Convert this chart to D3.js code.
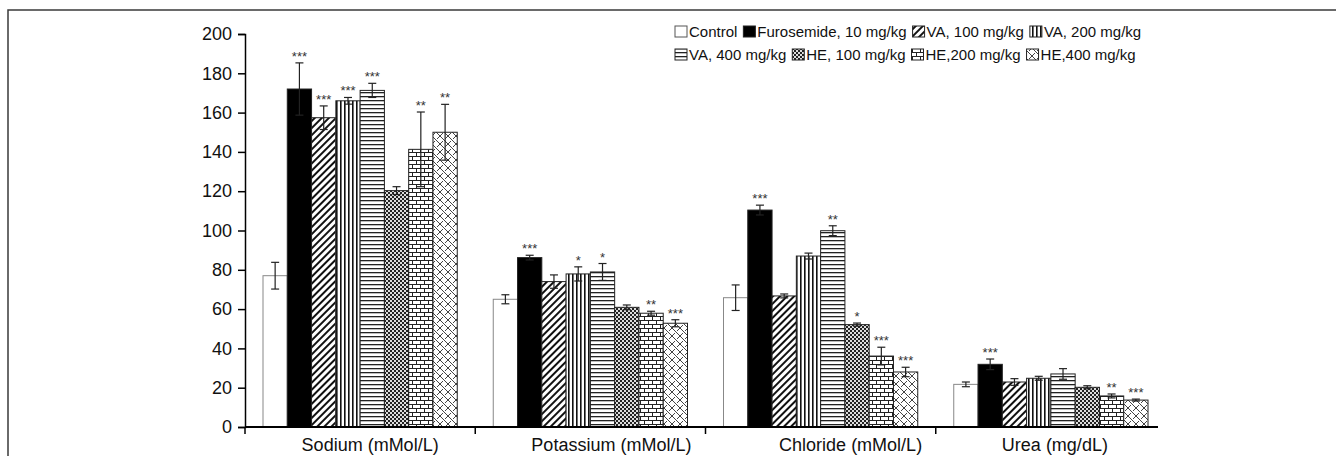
<!DOCTYPE html>
<html>
<head>
<meta charset="utf-8">
<script src="https://cdn.jsdelivr.net/npm/d3@7"></script>
<style>
  body { margin: 0; background: #fff; }
  svg { display: block; font-family: "Liberation Sans", Arial, sans-serif; }
</style>
</head>
<body>
<div id="chart"></div>
<script>
// categorias y grupos de tratamiento
const categories = ["Sodium (mMol/L)", "Potassium (mMol/L)", "Chloride (mMol/L)", "Urea (mg/dL)"];
const groups = ["Control", "Furosemide, 10 mg/kg", "VA, 100 mg/kg", "VA, 200 mg/kg",
                "VA, 400 mg/kg", "HE, 100 mg/kg", "HE,200 mg/kg", "HE,400 mg/kg"];

// valores medios, error y significancia por categoria
const sodium = [77, 172, 157.4, 166, 171.3, 120.3, 141.3, 150];
const sodiumErr = [6.8, 13.3, 6, 1.7, 3.6, 2, 19, 14.2];
const sodiumSig = ["", "***", "***", "***", "***", "", "**", "**"];

const potassium = [65, 86.2, 74, 77.9, 78.9, 60.9, 57.9, 52.8];
const potassiumErr = [2.3, 1.2, 3.4, 3.6, 4.3, 1.2, 1, 1.8];
const potassiumSig = ["", "***", "", "*", "*", "", "**", "***"];

const chloride = [65.8, 110.4, 66.7, 87, 99.9, 52.1, 36.1, 28];
const chlorideErr = [6.5, 2.5, 1, 1.5, 2.5, 0.8, 4.5, 2.4];
const chlorideSig = ["", "***", "", "", "**", "*", "***", "***"];

const urea = [21.7, 31.9, 22.9, 24.8, 27, 20.2, 15.8, 13.7];
const ureaErr = [1.2, 2.7, 1.7, 1, 2.7, 0.8, 1, 0.5];
const ureaSig = ["", "***", "", "", "", "", "**", "***"];

const yTicks = [0, 20, 40, 60, 80, 100, 120, 140, 160, 180, 200];

// leyenda en dos filas
const legendRows = [groups.slice(0, 4), groups.slice(4)];

const means = [sodium, potassium, chloride, urea];
const errs = [sodiumErr, potassiumErr, chlorideErr, ureaErr];
const sigs = [sodiumSig, potassiumSig, chlorideSig, ureaSig];

// corrimiento de las etiquetas del eje x (como en la figura original)
const labelShift = [10, 21, 30, 4];

const width = 1336, height = 456;

let svg = d3.select("#chart").append("svg")
    .attr("width", width)
    .attr("height", height);

// patrones de relleno
const defs = svg.append("defs");
const fills = ["#fff", "#000", "url(#pDiag)", "url(#pVert)", "url(#pHorz)",
               "url(#pCheck)", "url(#pBrick)", "url(#pWeave)"];

let p = defs.append("pattern").attr("id", "pDiag")
    .attr("patternUnits", "userSpaceOnUse").attr("width", 5).attr("height", 5)
    .attr("patternTransform", "rotate(45)");
p.append("rect").attr("width", 5).attr("height", 5).attr("fill", "#fff");
p.append("rect").attr("width", 2).attr("height", 5).attr("fill", "#111");

p = defs.append("pattern").attr("id", "pVert")
    .attr("patternUnits", "userSpaceOnUse").attr("width", 4).attr("height", 4);
p.append("rect").attr("width", 4).attr("height", 4).attr("fill", "#fff");
p.append("rect").attr("width", 1.6).attr("height", 4).attr("fill", "#111");

p = defs.append("pattern").attr("id", "pHorz")
    .attr("patternUnits", "userSpaceOnUse").attr("width", 4).attr("height", 4);
p.append("rect").attr("width", 4).attr("height", 4).attr("fill", "#fff");
p.append("rect").attr("width", 4).attr("height", 1.3).attr("fill", "#222");

p = defs.append("pattern").attr("id", "pCheck")
    .attr("patternUnits", "userSpaceOnUse").attr("width", 4).attr("height", 4);
p.append("rect").attr("width", 4).attr("height", 4).attr("fill", "#ddd");
p.append("rect").attr("width", 2).attr("height", 2).attr("fill", "#222");
p.append("rect").attr("x", 2).attr("y", 2).attr("width", 2).attr("height", 2).attr("fill", "#222");

p = defs.append("pattern").attr("id", "pBrick")
    .attr("patternUnits", "userSpaceOnUse").attr("width", 8).attr("height", 8);
p.append("rect").attr("width", 8).attr("height", 8).attr("fill", "#fff");
p.append("path").attr("d", "M0,0.5H8M0,4.5H8M0.5,0.5V4.5M4.5,4.5V8.5")
    .attr("stroke", "#222").attr("stroke-width", 1).attr("fill", "none");

p = defs.append("pattern").attr("id", "pWeave")
    .attr("patternUnits", "userSpaceOnUse").attr("width", 8).attr("height", 8);
p.append("rect").attr("width", 8).attr("height", 8).attr("fill", "#fff");
p.append("path").attr("d", "M0,0L8,8M0,8L3,5M5,3L8,0M-1,1L1,-1M7,9L9,7")
    .attr("stroke", "#444").attr("stroke-width", 1).attr("fill", "none");

// marco exterior
svg.append("rect")
    .attr("x", 8).attr("y", 10)
    .attr("width", width + 20).attr("height", height + 20)
    .attr("fill", "none").attr("stroke", "#3a3a3a").attr("stroke-width", 1.5);

// escalas
let x0 = d3.scaleBand().domain(categories).range([245, 1166]);
let x1 = d3.scaleBand().domain(groups).range([18, x0.bandwidth() - 18]);
let y = d3.scaleLinear().domain([0, 200]).range([427, 34]);

// eje y
let yAxis = svg.append("g")
    .attr("transform", "translate(245,0)")
    .call(d3.axisLeft(y).tickValues(yTicks).tickSize(7).tickPadding(6));
yAxis.select(".domain").attr("stroke", "#000").attr("stroke-width", 1.5);
yAxis.selectAll(".tick line").attr("stroke", "#000").attr("stroke-width", 1.5);
yAxis.selectAll("text")
    .attr("font-size", 18).attr("fill", "#111")
    .attr("font-family", "'Liberation Sans', Arial, sans-serif");

// datos planos para las barras
let bars = [];
categories.forEach(function(c, ci) {
    groups.forEach(function(g, gi) {
        bars.push({cat: c, group: g, gi: gi, v: means[ci][gi], e: errs[ci][gi], sig: sigs[ci][gi]});
    });
});

svg.append("g").selectAll("rect")
    .data(bars)
    .enter().append("rect")
    .attr("x", d => x0(d.cat) + x1(d.group))
    .attr("y", d => y(d.v))
    .attr("width", x1.bandwidth())
    .attr("height", d => y(0) - y(d.v))
    .attr("fill", d => fills[d.gi])
    .attr("stroke", d => d.gi === 0 ? "#888" : "#222")
    .attr("stroke-width", 1);

// barras de error
let eb = svg.append("g").attr("stroke", "#222").attr("stroke-width", 1.2);
bars.forEach(function(d) {
    let cx = x0(d.cat) + x1(d.group) + x1.bandwidth() / 2;
    let top = y(d.v + d.e), bot = y(d.v - d.e);
    eb.append("line").attr("x1", cx).attr("x2", cx).attr("y1", top).attr("y2", bot);
    eb.append("line").attr("x1", cx - 4).attr("x2", cx + 4).attr("y1", top).attr("y2", top);
    eb.append("line").attr("x1", cx - 4).attr("x2", cx + 4).attr("y1", bot).attr("y2", bot);
});

// asteriscos de significancia
svg.append("g").selectAll("text")
    .data(bars.filter(d => d.sig !== ""))
    .enter().append("text")
    .attr("x", d => x0(d.cat) + x1(d.group) + x1.bandwidth() / 2)
    .attr("y", d => y(d.v + d.e) - 2)
    .attr("text-anchor", "middle")
    .attr("font-size", 13)
    .attr("fill", "#333")
    .text(d => d.sig);

// eje x
let lastBar = x0(categories[3]) + x1(groups[7]) + x1.bandwidth();
svg.append("line")
    .attr("x1", 245).attr("x2", lastBar + 10)
    .attr("y1", y(0)).attr("y2", y(0))
    .attr("stroke", "#000").attr("stroke-width", 1.8);
svg.append("g").selectAll("line")
    .data(categories)
    .enter().append("line")
    .attr("x1", d => x0(d)).attr("x2", d => x0(d))
    .attr("y1", y(0)).attr("y2", y(0) + 7)
    .attr("stroke", "#000").attr("stroke-width", 1.5);

svg.append("g").selectAll("text")
    .data(categories)
    .enter().append("text")
    .attr("x", (d, i) => x0(d) + x0.bandwidth() / 2 + labelShift[i])
    .attr("y", 451)
    .attr("text-anchor", "middle")
    .attr("font-size", 18)
    .attr("fill", "#111")
    .text(d => d);

// leyenda
let legend = svg.append("g").attr("font-size", 15).attr("fill", "#111");
legendRows.forEach(function(row, ri) {
    let base = 37 + ri * 23;
    let cx = 675;
    row.forEach(function(g) {
        let gi = groups.indexOf(g);
        legend.append("rect")
            .attr("x", cx).attr("y", base - 11)
            .attr("width", 12).attr("height", 11)
            .attr("fill", fills[gi])
            .attr("stroke", gi === 0 ? "#555" : "#222").attr("stroke-width", 1);
        let t = legend.append("text")
            .attr("x", cx + 14).attr("y", base)
            .text(g);
        cx += 14 + t.node().getComputedTextLength() + 6;
    });
});
</script>
</body>
</html>
